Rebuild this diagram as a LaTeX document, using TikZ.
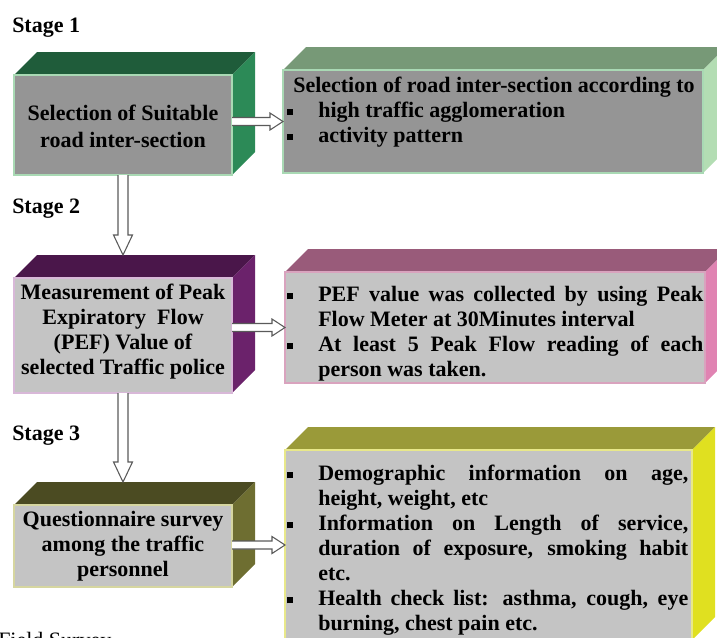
\documentclass[tikz,border=0pt]{standalone}
\usepackage{fontspec}
\setmainfont{Liberation Serif}
\usetikzlibrary{calc,backgrounds}
\definecolor{GreenTop}{HTML}{1F5C3A}
\definecolor{GreenSide}{HTML}{2C8A57}
\definecolor{GreenEdge}{HTML}{A9D9B4}
\definecolor{SageTop}{HTML}{779977}
\definecolor{SageSide}{HTML}{B3DDB3}
\definecolor{PlumTop}{HTML}{4A164A}
\definecolor{PlumSide}{HTML}{6B226B}
\definecolor{PlumEdge}{HTML}{D8B8D8}
\definecolor{MauveTop}{HTML}{995B7A}
\definecolor{MauveSide}{HTML}{E083B2}
\definecolor{MauveEdge}{HTML}{D9A3BE}
\definecolor{OliveTop}{HTML}{4B4B22}
\definecolor{OliveSide}{HTML}{6E6E31}
\definecolor{OliveEdge}{HTML}{D6D6A0}
\definecolor{MustardTop}{HTML}{9A9A39}
\definecolor{MustardSide}{HTML}{E0E020}
\definecolor{MustardEdge}{HTML}{E8E88A}
\definecolor{FaceDark}{HTML}{959595}
\definecolor{FaceLight}{HTML}{C4C4C4}
\definecolor{ArrowGray}{HTML}{5A5A5A}
\newcommand{\bulitem}{\par\noindent\hangindent=23.25pt\hangafter=1%
 \makebox[23.25pt][l]{\rule[1.8pt]{4.5pt}{4.5pt}}\strut}

\begin{document}
\begin{tikzpicture}[x=0.75pt,y=-0.75pt,
 face/.style={line width=0.9pt,inner sep=0pt,outer sep=0pt},
 ltext/.style={anchor=north,inner sep=0pt,align=center,
  font=\bfseries\fontsize{16.5}{18.75}\selectfont},
 rtext/.style={anchor=north west,inner sep=0pt,align=justify,
  font=\bfseries\fontsize{16.5}{18.75}\selectfont},
 stage/.style={anchor=base west,inner sep=0pt,font=\bfseries\fontsize{16.5}{20}\selectfont},
 harr/.style={draw=ArrowGray,fill=white,line width=0.8pt,
  to path={($(\tikztostart)+(0,-4)$) -- ($(\tikztotarget)+(-13,-4)$)
   -- ($(\tikztotarget)+(-13,-8.5)$) -- (\tikztotarget) -- ($(\tikztotarget)+(-13,8.5)$)
   -- ($(\tikztotarget)+(-13,4)$) -- ($(\tikztostart)+(0,4)$)}},
 varr/.style={draw=ArrowGray,fill=white,line width=0.8pt,
  to path={($(\tikztostart)+(-5,0)$) -- ($(\tikztotarget)+(-5,-20)$)
   -- ($(\tikztotarget)+(-9.5,-20)$) -- (\tikztotarget) -- ($(\tikztotarget)+(9.5,-20)$)
   -- ($(\tikztotarget)+(5,-20)$) -- ($(\tikztostart)+(5,0)$)}}]
\useasboundingbox (0,0) rectangle (717,637);

\node[stage] (s1) at (12,32) {Stage 1};
\node[stage] (s2) at (12,213) {Stage 2};
\node[stage] (s3) at (12,440) {Stage 3};

\node[face,fill=FaceDark,draw=GreenEdge,minimum width=163.5pt,minimum height=75pt] (f1) at (123,125) {};
\node[face,fill=FaceDark,draw=GreenEdge,minimum width=315pt,minimum height=77.25pt] (r1) at (493,121.5) {};
\node[face,fill=FaceLight,draw=PlumEdge,minimum width=163.5pt,minimum height=86.25pt] (f2) at (123,335.5) {};
\node[face,fill=FaceLight,draw=MauveEdge,minimum width=315pt,minimum height=83.25pt] (r2) at (495,327.5) {};
\node[face,fill=FaceLight,draw=OliveEdge,minimum width=163.5pt,minimum height=61.5pt] (f3) at (123,546) {};
\node[face,fill=FaceLight,draw=MustardEdge,minimum width=305.25pt,minimum height=142.5pt] (r3) at (488.5,545) {};

\begin{scope}[on background layer]
\foreach \f/\tc/\sc in {f1/GreenTop/GreenSide,r1/SageTop/SageSide,f2/PlumTop/PlumSide,
 r2/MauveTop/MauveSide,f3/OliveTop/OliveSide,r3/MustardTop/MustardSide} {
 \fill[\tc] (\f.north west) -- ++(23,-23) -- ([shift={(23,-23)}]\f.north east) -- (\f.north east) -- cycle;
 \fill[\sc] (\f.north east) -- ++(23,-23) -- ([shift={(23,-23)}]\f.south east) -- (\f.south east) -- cycle;
}
\end{scope}

\node[ltext,font=\bfseries\fontsize{16.5}{20.25}\selectfont] (l1) at (123,101.1)
 {\strut Selection of Suitable\\\strut road inter-section};
\node[ltext] (l2) at (123,281.5)
 {\strut Measurement of Peak\\\strut Expiratory~ Flow\\\strut (PEF) Value of\\\strut selected Traffic police};
\node[ltext] (l3) at (123,508.5)
 {\strut Questionnaire survey\\\strut among the traffic\\\strut personnel};

\node[rtext,text width=330pt] (t1) at (287,74.5)
 {\noindent\strut\hspace*{4.5pt}Selection of road inter-section according to
 \bulitem high traffic agglomeration
 \bulitem activity pattern\par};
\node[rtext,text width=312pt] (t2) at (287,276.5)
 {\bulitem PEF value was collected by using Peak\linebreak Flow Meter at 30Minutes interval
 \bulitem At least 5 Peak Flow reading of each\linebreak person was taken.\par};
\node[rtext,text width=300.75pt] (t3) at (287,455.5)
 {\bulitem Demographic information on age,\linebreak height, weight, etc
 \bulitem Information on Length of service,\linebreak duration of exposure, smoking habit\linebreak etc.
 \bulitem Health check list: asthma, cough, eye\linebreak burning, chest pain etc.\par};

\node[anchor=base west,inner sep=0pt,font=\fontsize{16.5}{20}\selectfont] (src) at (-2,647) {Field Survey};

\draw[harr] (f1.east |- r1.west) to (r1.west);
\draw[harr] (f2.east |- r2.west) to (r2.west);
\draw[harr] (f3.east |- r3.west) to (r3.west);
\draw[varr] (f1.south) to ([yshift=17.25pt]f2.north);
\draw[varr] (f2.south) to ([yshift=17.25pt]f3.north);
\end{tikzpicture}
\end{document}
